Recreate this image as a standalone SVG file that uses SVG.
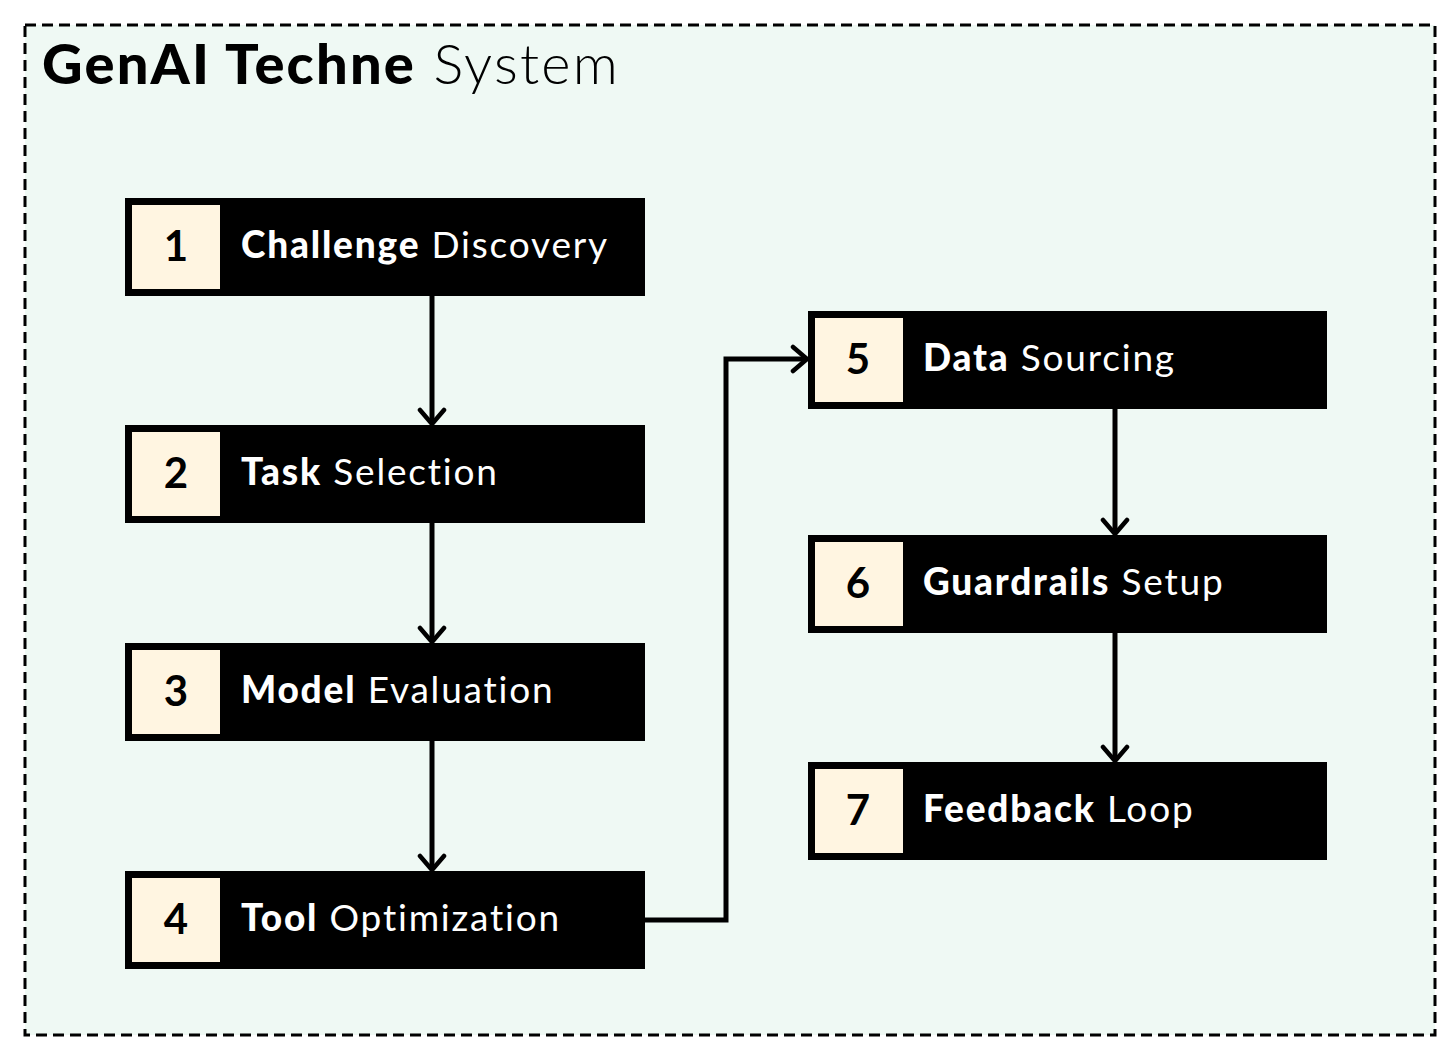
<svg xmlns="http://www.w3.org/2000/svg" width="1456" height="1063" viewBox="0 0 1456 1063">
<defs>
<style>
.node-bg{fill:#000}
.num-bg{fill:#fff5e1}
.num{font-family:Lato,"Noto Sans",sans-serif;font-size:42px;font-weight:700;fill:#000;text-anchor:middle}
.lbl{font-family:Lato,"Noto Sans",sans-serif;font-size:37px;fill:#fff;letter-spacing:1.8px}
.b{font-weight:900}
.r{font-weight:400}
.conn{fill:none;stroke:#000;stroke-width:5}
</style>
<marker id="arr" viewBox="0 0 20 30" refX="17" refY="15" markerWidth="20" markerHeight="30" markerUnits="userSpaceOnUse" orient="auto">
<path d="M3,3 L17,15 L3,27" fill="none" stroke="#000" stroke-width="4.5" stroke-linecap="round" stroke-linejoin="round"/>
</marker>
</defs>
<rect width="1456" height="1063" fill="#fff"/>
<rect x="25" y="25" width="1410" height="1010" fill="#eff9f4" stroke="#000" stroke-width="3" stroke-dasharray="11,6"/>
<text x="42" y="84" font-family="Lato,'Noto Sans',sans-serif" font-size="56" fill="#000" letter-spacing="2.2"><tspan font-weight="900">GenAI Techne</tspan><tspan font-weight="300"> System</tspan></text>
<g id="connectors">
<line class="conn" x1="432" y1="296" x2="432" y2="424" marker-end="url(#arr)"/>
<line class="conn" x1="432" y1="523" x2="432" y2="642" marker-end="url(#arr)"/>
<line class="conn" x1="432" y1="741" x2="432" y2="870" marker-end="url(#arr)"/>
<polyline class="conn" points="645,920 726,920 726,359 807,359" marker-end="url(#arr)"/>
<line class="conn" x1="1115" y1="409" x2="1115" y2="534" marker-end="url(#arr)"/>
<line class="conn" x1="1115" y1="633" x2="1115" y2="761" marker-end="url(#arr)"/>
</g>
<g id="node1">
<rect class="node-bg" x="125" y="198" width="520" height="98"/>
<rect class="num-bg" x="132" y="205" width="88" height="84"/>
<text class="num" x="176" y="261">1</text>
<text class="lbl" x="241" y="258"><tspan class="b">Challenge</tspan><tspan class="r"> Discovery</tspan></text>
</g>
<g id="node2">
<rect class="node-bg" x="125" y="425" width="520" height="98"/>
<rect class="num-bg" x="132" y="432" width="88" height="84"/>
<text class="num" x="176" y="488">2</text>
<text class="lbl" x="241" y="485"><tspan class="b">Task</tspan><tspan class="r"> Selection</tspan></text>
</g>
<g id="node3">
<rect class="node-bg" x="125" y="643" width="520" height="98"/>
<rect class="num-bg" x="132" y="650" width="88" height="84"/>
<text class="num" x="176" y="706">3</text>
<text class="lbl" x="241" y="703"><tspan class="b">Model</tspan><tspan class="r"> Evaluation</tspan></text>
</g>
<g id="node4">
<rect class="node-bg" x="125" y="871" width="520" height="98"/>
<rect class="num-bg" x="132" y="878" width="88" height="84"/>
<text class="num" x="176" y="934">4</text>
<text class="lbl" x="241" y="931"><tspan class="b">Tool</tspan><tspan class="r"> Optimization</tspan></text>
</g>
<g id="node5">
<rect class="node-bg" x="808" y="311" width="519" height="98"/>
<rect class="num-bg" x="815" y="318" width="88" height="84"/>
<text class="num" x="858" y="374">5</text>
<text class="lbl" x="923" y="371"><tspan class="b">Data</tspan><tspan class="r"> Sourcing</tspan></text>
</g>
<g id="node6">
<rect class="node-bg" x="808" y="535" width="519" height="98"/>
<rect class="num-bg" x="815" y="542" width="88" height="84"/>
<text class="num" x="858" y="598">6</text>
<text class="lbl" x="923" y="595"><tspan class="b">Guardrails</tspan><tspan class="r"> Setup</tspan></text>
</g>
<g id="node7">
<rect class="node-bg" x="808" y="762" width="519" height="98"/>
<rect class="num-bg" x="815" y="769" width="88" height="84"/>
<text class="num" x="858" y="825">7</text>
<text class="lbl" x="923" y="822"><tspan class="b">Feedback</tspan><tspan class="r"> Loop</tspan></text>
</g>
</svg>
